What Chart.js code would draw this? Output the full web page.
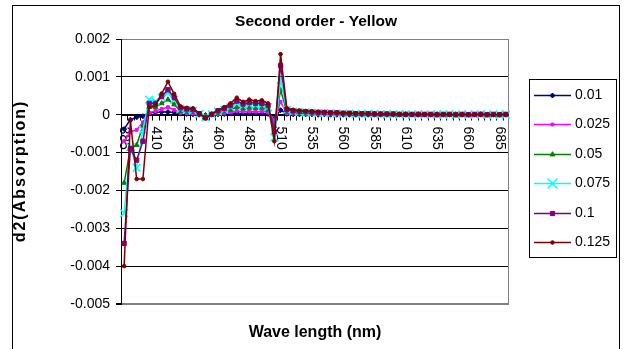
<!DOCTYPE html>
<html><head><meta charset="utf-8">
<script src="https://cdn.jsdelivr.net/npm/chart.js@4.4.1/dist/chart.umd.min.js"></script>
<style>html,body{margin:0;padding:0;background:#fff;overflow:hidden;}</style>
</head><body>
<canvas id="c" width="624" height="349" style="display:block;width:624px;height:349px"></canvas>
<script>
const wavelengths = [385,390,395,400,405,410,415,420,425,430,435,440,445,450,455,460,465,470,475,480,
  485,490,495,500,505,510,515,520,525,530,535,540,545,550,555,560,565,570,575,580,
  585,590,595,600,605,610,615,620,625,630,635,640,645,650,655,660,665,670,675,680,685,690];
const xTickLabels = ['385','410','435','460','485','510','535','560','585','610','635','660','685'];
const yTickLabels = ['-0.005','-0.004','-0.003','-0.002','-0.001','0','0.001','0.002'];
const seriesNames = ['0.01','0.025','0.05','0.075','0.1','0.125'];

const c01 = [-0.00038,-0.00013,-0.00007,-0.00004,0.00005,0.00006,0.00007,0.00007,0.00006,0.00003,0.00002,0.00001,0,-0.00001,0,0.00001,0.00002,0.00003,0.00004,0.00003,0.00004,0.00003,0.00003,0.00002,-0.0001,0.00012,
  0.00002,0.00001,0.00001,0.00001,0.00001,0,0.00001,0,0,0,0,0,0,0,0,0,0,0,0,0,0,0,0,0,0,0,0,0,0,0,0,0,0,0,0,0];
const c025 = [-0.0007,-0.00045,-0.0004,-0.0002,0.00005,0.0001,0.00015,0.0002,0.00013,0.00005,0.00004,0.00003,0.00001,-0.00002,0,0.00002,0.00004,0.00006,0.0001,0.00008,0.00009,0.00008,0.00009,0.00006,-0.00015,0.00034,
  0.00004,0.00003,0.00003,0.00002,0.00002,0.00002,0.00001,0.00001,0.00001,0.00001,0.00001,0.00001,0,0.00001,0,0,0.00001,0,0,0,0,0.00001,0,0,0,0,0,0,0,0,0,0,0,0,0,0];
const c05 = [-0.0018,-0.0009,-0.0008,-0.0003,0.0002,0.0002,0.0003,0.0004,0.00027,0.0001,0.00008,0.00007,0.00001,-0.00004,0.00001,0.00005,0.00009,0.00013,0.0002,0.00016,0.00018,0.00017,0.00018,0.00013,-0.0003,0.00065,
  0.00008,0.00006,0.00005,0.00004,0.00004,0.00003,0.00003,0.00003,0.00002,0.00002,0.00002,0.00002,0.00001,0.00001,0.00001,0.00001,0.00001,0.00001,0,0.00001,0,0.00001,0,0,0.00001,0,0,0.00001,0,0,0,0.00001,0,0,0,0];
const c075 = [-0.0026,-0.00085,-0.0014,-0.0004,0.0004,0.00035,0.00045,0.00058,0.0004,0.00015,0.00012,0.0001,0.00002,-0.00006,0.00001,0.00008,0.00013,0.0002,0.0003,0.00024,0.00028,0.00026,0.00027,0.0002,-0.0006,0.00092,
  0.00012,0.00008,0.00007,0.00006,0.00005,0.00005,0.00004,0.00004,0.00003,0.00003,0.00003,0.00002,0.00002,0.00002,0.00002,0.00001,0.00001,0.00001,0.00001,0.00001,0,0.00001,0,0.00001,0.00001,0,0.00001,0,0,0.00001,0,0.00001,0,0,0.00001,0];
const c100 = [-0.0034,-0.0009,-0.0012,-0.0007,0.0003,0.0003,0.00048,0.00066,0.00045,0.00018,0.00015,0.00013,0.00003,-0.00008,0.00001,0.0001,0.00016,0.00024,0.00036,0.00028,0.00032,0.0003,0.0003,0.00024,-0.00045,0.0013,
  0.00014,0.0001,0.00009,0.00008,0.00007,0.00006,0.00006,0.00005,0.00005,0.00004,0.00004,0.00003,0.00003,0.00003,0.00002,0.00002,0.00002,0.00002,0.00001,0.00001,0.00001,0.00001,0.00001,0.00001,0,0.00001,0.00001,0,0.00001,0,0.00001,0.00001,0,0.00001,0,0.00001];
const c125 = [-0.0040,-0.00015,-0.0017,-0.0017,0.0002,0.00025,0.00056,0.00087,0.00055,0.00022,0.00018,0.00017,0.00004,-0.0001,0.00002,0.00012,0.0002,0.0003,0.00045,0.00034,0.0004,0.00036,0.00038,0.0003,-0.0007,0.0016,
  0.00017,0.00013,0.00011,0.0001,0.00009,0.00008,0.00007,0.00006,0.00006,0.00005,0.00004,0.00004,0.00003,0.00003,0.00003,0.00002,0.00002,0.00002,0.00002,0.00001,0.00001,0.00001,0.00001,0.00001,0.00001,0.00001,0.00001,0,0.00001,0.00001,0,0.00001,0.00001,0,0.00001,0.00001];

const FONT = "'Liberation Sans', Arial, sans-serif";
const styles = [
  {color:'#000080', pointStyle:'rectRot', radius:2.5, bw:1},
  {color:'#FF00FF', pointStyle:'rect', radius:2, bw:1},
  {color:'#008000', pointStyle:'triangle', radius:2.8, bw:1},
  {color:'#00FFFF', pointStyle:'crossRot', radius:5.5, bw:1.5},
  {color:'#800080', pointStyle:'rect', radius:3, bw:1},
  {color:'#800000', pointStyle:'circle', radius:1.8, bw:1}
];
const allData = [c01, c025, c05, c075, c100, c125];

const datasets = allData.map((d, i) => ({
  label: seriesNames[i],
  data: d,
  borderColor: styles[i].color,
  backgroundColor: styles[i].color,
  pointBackgroundColor: styles[i].color,
  pointBorderColor: styles[i].color,
  pointStyle: styles[i].pointStyle,
  pointRadius: styles[i].radius,
  pointBorderWidth: styles[i].bw,
  borderWidth: 1.5,
  tension: 0,
  fill: false,
  order: 6 - i
}));

const decor = {
  id: 'decor',
  beforeDraw(chart) {
    const ctx = chart.ctx;
    ctx.save(); ctx.fillStyle = '#fff'; ctx.fillRect(0, 0, chart.width, chart.height); ctx.restore();
  },
  beforeDatasetsDraw(chart) {
    const {ctx, chartArea: a, scales: {x, y}} = chart;
    ctx.save();
    ctx.strokeStyle = '#808080'; ctx.lineWidth = 1;
    ctx.beginPath(); ctx.moveTo(Math.round(a.right) - 0.5, a.top); ctx.lineTo(Math.round(a.right) - 0.5, a.bottom); ctx.stroke();
    const y0 = Math.round(y.getPixelForValue(0)) + 0.5;
    ctx.strokeStyle = '#000';
    ctx.beginPath(); ctx.moveTo(a.left, y0); ctx.lineTo(a.right, y0); ctx.stroke();
    const n = wavelengths.length;
    const step = (a.right - a.left) / n;
    ctx.beginPath();
    for (let i = 1; i < n; i++) {
      const xx = Math.round(a.left + i * step) + 0.5;
      ctx.moveTo(xx, y0); ctx.lineTo(xx, y0 + 5);
    }
    ctx.stroke();
    ctx.fillStyle = '#000'; ctx.font = '14px ' + FONT; ctx.textAlign = 'left'; ctx.textBaseline = 'middle';
    wavelengths.forEach((w, i) => {
      if (xTickLabels.includes(String(w))) {
        ctx.save();
        ctx.translate(x.getPixelForValue(i), y0 + 11);
        ctx.rotate(Math.PI / 2);
        ctx.fillText(String(w), 0, 0);
        ctx.restore();
      }
    });
    ctx.restore();
  },
  afterDraw(chart) {
    const ctx = chart.ctx;
    ctx.save();
    ctx.fillStyle = '#000';
    ctx.font = 'bold 15.5px ' + FONT; ctx.textAlign = 'center'; ctx.textBaseline = 'alphabetic';
    ctx.fillText('Second order - Yellow', 316, 26);
    ctx.font = 'bold 16px ' + FONT;
    ctx.fillText('Wave length (nm)', 315, 337);
    ctx.save();
    ctx.translate(21, 171); ctx.rotate(-Math.PI / 2);
    ctx.textBaseline = 'middle';
    try { ctx.letterSpacing = '2px'; } catch (e) {}
    ctx.fillText('d2(Absorption)', 0, 0);
    ctx.restore();
    // legend
    ctx.strokeStyle = '#000'; ctx.lineWidth = 1;
    ctx.strokeRect(529.5, 79.5, 87, 178);
    ctx.font = '14px ' + FONT; ctx.textAlign = 'left'; ctx.textBaseline = 'middle';
    seriesNames.forEach((name, i) => {
      const yy = Math.round(95 + i * 29.4) + 0.5;
      const s = styles[i];
      ctx.strokeStyle = s.color; ctx.fillStyle = s.color; ctx.lineWidth = 1.5;
      ctx.beginPath(); ctx.moveTo(534, yy); ctx.lineTo(571, yy); ctx.stroke();
      ctx.lineWidth = s.bw;
      Chart.helpers.drawPoint(ctx, {pointStyle: s.pointStyle, radius: s.pointStyle === 'crossRot' ? 7 : s.radius, rotation: 0, borderWidth: s.bw}, 552.5, yy);
      ctx.fillStyle = '#000';
      ctx.fillText(name, 575, yy);
    });
    // outer border
    ctx.strokeStyle = '#000'; ctx.lineWidth = 1;
    ctx.strokeRect(12.5, 5.5, 607, 400);
    ctx.restore();
  }
};

new Chart(document.getElementById('c'), {
  type: 'line',
  data: { labels: wavelengths.map(String), datasets },
  options: {
    responsive: false,
    animation: false,
    devicePixelRatio: 1,
    layout: { padding: { left: 0, right: 115, top: 39, bottom: 45 } },
    plugins: { legend: { display: false }, title: { display: false }, tooltip: { enabled: false } },
    scales: {
      x: { type: 'category', display: false, offset: true },
      y: {
        min: -0.005, max: 0.002,
        afterFit(s) { s.width = 121; },
        ticks: {
          stepSize: 0.001, color: '#000', padding: 6,
          font: { family: FONT, size: 14 },
          callback: (v, i) => yTickLabels[i]
        },
        grid: {
          color: c => (c.index === 0 || c.index === 7) ? '#808080' : '#000',
          lineWidth: c => (c.index === 0) ? 2 : 1,
          tickLength: 5, tickColor: '#000', drawTicks: true
        },
        border: { color: '#000', width: 1 }
      }
    }
  },
  plugins: [decor]
});
</script>
</body></html>
